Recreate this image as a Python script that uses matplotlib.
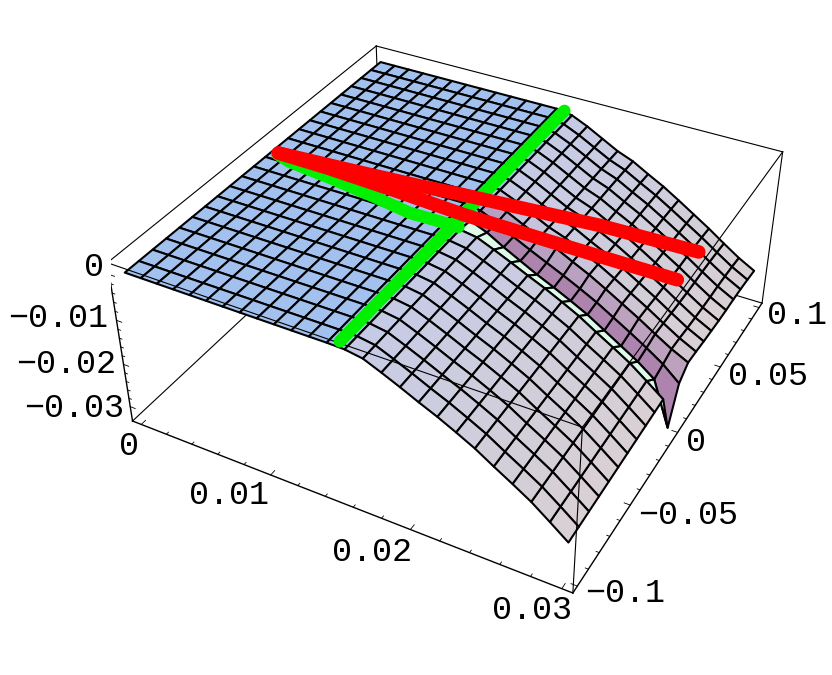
import numpy as np
import matplotlib
matplotlib.use('Agg')
import matplotlib.pyplot as plt
from mpl_toolkits.mplot3d import proj3d

# plot box
x_lo, x_hi = -0.0007, 0.0307
y_lo, y_hi = -0.104, 0.104
z_lo, z_hi = -0.0335, 0.0025

# mesh lines of the surface
x_mesh = [0.0, 0.0012, 0.0024, 0.0036, 0.0048, 0.006, 0.0072, 0.0084, 0.0096, 0.0108, 0.012, 0.0132, 0.0144,
          0.0156, 0.0168, 0.018, 0.0192, 0.0204, 0.0216, 0.0228, 0.024, 0.0252, 0.0264, 0.0276, 0.0288, 0.03]
y_mesh = [-0.1, -0.0909, -0.0818, -0.0727, -0.0636, -0.0545, -0.0455, -0.0364, -0.0273, -0.0182, -0.0091,
          0.0, 0.0091, 0.0182, 0.0273, 0.0364, 0.0455, 0.0545, 0.0636, 0.0727, 0.0818, 0.0909, 0.1]

# height along x, read on the y<0 edge and on the y>0 edge
z_front = [0, 0, 0, 0, 0, 0, 0, 0, 0, 0, 0, 0, 0, -0.0001, -0.0007, -0.0023, -0.004, -0.0058, -0.0075, -0.0094,
           -0.0114, -0.0138, -0.0161, -0.0185, -0.0214, -0.0244]
z_back = [0, 0, 0, 0, 0, 0, 0, 0, 0, 0, 0, 0, 0, -0.0006, -0.0022, -0.0041, -0.006, -0.0074, -0.0094, -0.0113,
          -0.0135, -0.0158, -0.0181, -0.0206, -0.023, -0.025]
# relative height across y on the two sides of the crease
rows_front = [1.0, 0.996, 0.992, 0.988, 0.984, 0.98, 0.976, 0.972, 0.968, 0.964, 0.96]
rows_back = [0.936, 0.944, 0.956, 0.964, 0.972, 0.976, 0.976, 0.98, 0.988, 1.0]
# the two mesh lines at the foot of the purple wall
z_notch = [0, 0, 0, 0, 0, 0, 0, 0, 0, 0, 0, 0, 0, -0.0005, -0.002, -0.0041, -0.006, -0.0079, -0.0096, -0.0114,
           -0.0133, -0.0156, -0.0179, -0.0202, -0.023, -0.0332]
z_wall = [0, 0, 0, 0, 0, 0, 0, 0, 0, 0, 0, 0, 0, -0.0006, -0.0022, -0.0042, -0.006, -0.0077, -0.0094, -0.0112,
          -0.0131, -0.0153, -0.0175, -0.0198, -0.0223, -0.0255]

ridge_y = [-0.097, 0.1]
ridge_x = [0.015, 0.015]
green_x = [0.0005, 0.0018, 0.0052, 0.0086, 0.0119, 0.0154]
green_y = [0.0045, 0.0016, -0.0011, -0.0045, -0.0084, -0.0079]
bump_x = [0.0069, 0.0082, 0.0094, 0.0108, 0.0122]
bump_y = [-0.0025, -0.0042, -0.005, -0.0064, -0.0086]

red_a_x = [0.0005, 0.0059, 0.0109, 0.0137, 0.0163, 0.0213, 0.0267]
red_a_y = [0.0055, 0.0086, 0.0119, 0.0145, 0.0202, 0.0512, 0.083]
red_a_z = [0, 0, 0, 0, -0.0012, -0.0095, -0.019]
red_b_x = [0.0005, 0.0045, 0.0097, 0.0151, 0.0196, 0.0268]
red_b_y = [0.0055, 0.0053, 0.0036, 0.0012, 0.022, 0.0553]
red_b_z = [0, 0, 0, 0, -0.007, -0.018]

x_major = [0.0, 0.01, 0.02, 0.03]
x_labels = ['0', '0.01', '0.02', '0.03']
x_minor = [0.002, 0.004, 0.006, 0.008, 0.012, 0.014, 0.016, 0.018, 0.022, 0.024, 0.026, 0.028]
y_major = [-0.1, -0.05, 0.0, 0.05, 0.1]
y_labels = ['\u22120.1', '\u22120.05', '0', '0.05', '0.1']
y_minor = [-0.09, -0.08, -0.07, -0.06, -0.04, -0.03, -0.02, -0.01, 0.01, 0.02, 0.03, 0.04, 0.06, 0.07, 0.08, 0.09]
z_major = [0.0, -0.01, -0.02, -0.03]
z_labels = ['0', '\u22120.01', '\u22120.02', '\u22120.03']
z_minor = [-0.002, -0.004, -0.006, -0.008, -0.012, -0.014, -0.016, -0.018, -0.022, -0.024, -0.026, -0.028]

X, Y = np.meshgrid(x_mesh, y_mesh, indexing='ij')
Z = np.hstack([np.outer(z_front, rows_front), np.array([z_notch, z_wall]).T, np.outer(z_back, rows_back)])

blue = np.array([163, 193, 238]) / 255
lav = np.array([197, 203, 230]) / 255
pink = np.array([216, 208, 212]) / 255
purple = np.array([172, 132, 174]) / 255
mint = np.array([222, 250, 232]) / 255
purple_mix = {11: 1.0, 12: 0.6, 13: 0.12}

colors = np.ones(X.shape + (4,))
for i in range(X.shape[0] - 1):
    for j in range(X.shape[1] - 1):
        if i < 13:
            colors[i, j, :3] = blue
            continue
        t = min((x_mesh[i] - 0.015) / 0.014, 1)
        c = lav + (pink - lav) * t
        if j == 10:
            c = mint
        elif j in purple_mix:
            c = c + (purple - c) * purple_mix[j]
        colors[i, j, :3] = c

fig = plt.figure(figsize=(8.32, 6.75), dpi=100)
ax = fig.add_axes([110.6 / 832, 39.0 / 675, 684.3 / 832, 684.3 / 675], projection='3d', computed_zorder=False)
ax.set_xlim(x_lo, x_hi)
ax.set_ylim(y_lo, y_hi)
ax.set_zlim(z_lo, z_hi)
ax.view_init(elev=36.1421, azim=-61.5822, roll=0.0127)
ax.set_proj_type('persp', focal_length=0.4368)
ax.set_box_aspect((1, 1.001, 0.3993))
ax.set_axis_off()


def edge(a, b, lw=0.8, zorder=1):
    ax.plot([a[0], b[0]], [a[1], b[1]], [a[2], b[2]], color='black', lw=lw, zorder=zorder)


# edges behind the surface
edge((x_lo, y_hi, z_lo), (x_lo, y_lo, z_lo))
edge((x_lo, y_hi, z_lo), (x_hi, y_hi, z_lo))
edge((x_lo, y_hi, z_lo), (x_lo, y_hi, z_hi))
edge((x_hi, y_hi, z_lo), (x_hi, y_hi, z_hi))
edge((x_lo, y_lo, z_hi), (x_lo, y_hi, z_hi))
edge((x_lo, y_hi, z_hi), (x_hi, y_hi, z_hi))

ax.plot_surface(X, Y, Z, rstride=1, cstride=1, facecolors=colors, shade=False, edgecolor='black', linewidth=1.5, zorder=2)

# edges in front of it
edge((x_lo, y_lo, z_hi), (x_hi, y_lo, z_hi), zorder=3)
edge((x_hi, y_lo, z_hi), (x_hi, y_hi, z_hi), zorder=3)
edge((x_hi, y_lo, z_hi), (x_hi, y_lo, z_lo), zorder=3)
edge((x_lo, y_lo, z_hi), (x_lo, y_lo, z_lo), lw=1.0, zorder=3)
edge((x_lo, y_lo, z_lo), (x_hi, y_lo, z_lo), lw=1.0, zorder=3)
edge((x_hi, y_lo, z_lo), (x_hi, y_hi, z_lo), lw=1.0, zorder=3)

for v in x_major:
    edge((v, y_lo, z_lo), (v, y_lo + 0.003, z_lo), lw=0.6, zorder=3)
for v in x_minor:
    edge((v, y_lo, z_lo), (v, y_lo + 0.0015, z_lo), lw=0.6, zorder=3)
for v in y_major:
    edge((x_hi, v, z_lo), (x_hi - 0.0004, v, z_lo), lw=0.6, zorder=3)
for v in y_minor:
    edge((x_hi, v, z_lo), (x_hi - 0.0002, v, z_lo), lw=0.6, zorder=3)
for v in z_major:
    edge((x_lo, y_lo, v), (x_lo + 0.0004, y_lo, v), lw=0.6, zorder=3)
for v in z_minor:
    edge((x_lo, y_lo, v), (x_lo + 0.0002, y_lo, v), lw=0.6, zorder=3)

green = '#00f000'
ax.plot(ridge_x, ridge_y, [0, 0], color=green, lw=8.8, solid_capstyle='round', zorder=4)
ax.plot(green_x, green_y, np.zeros(len(green_x)), color=green, lw=8.8, solid_capstyle='round', solid_joinstyle='round', zorder=4)
ax.plot(bump_x, bump_y, np.zeros(len(bump_x)), 'o', color=green, ms=8.5, mew=0, zorder=4)
ax.plot(red_a_x, red_a_y, red_a_z, color='#ff0000', lw=9.8, solid_capstyle='round', solid_joinstyle='round', zorder=5)
ax.plot(red_b_x, red_b_y, red_b_z, color='#ff0000', lw=9.8, solid_capstyle='round', solid_joinstyle='round', zorder=5)

M = ax.get_proj()


def tick_label(x, y, z, text, dx, dy, ha):
    xp, yp, _ = proj3d.proj_transform(x, y, z, M)
    ax.annotate(text, (xp, yp), xytext=(dx, dy), textcoords='offset pixels', ha=ha, va='center',
                family='Liberation Mono', fontsize=24, annotation_clip=False)


for v, t, dx, dy in zip(x_major, x_labels, [-12, -42, -38, -30], [-22, -21, -23, -22]):
    tick_label(v, y_lo, z_lo, t, dx, dy, 'center')
for v, t, dy in zip(y_major, y_labels, [-7, -10, -10, -10, -8]):
    tick_label(x_hi, v, z_lo, t, 8, dy, 'left')
for v, t, dx, dy in zip(z_major, z_labels, [-5, -8, -7, -6], [7, 2, 0, -2]):
    tick_label(x_lo, y_lo, v, t, dx, dy, 'right')

fig.savefig('out.png', dpi=100)
